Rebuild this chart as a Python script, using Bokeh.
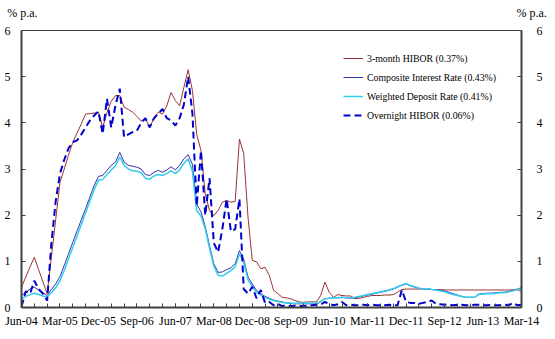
from bokeh.plotting import figure
from bokeh.layouts import column
from bokeh.models import FixedTicker, LinearAxis, Range1d, Legend, LegendItem
from bokeh.embed import file_html
from bokeh.resources import INLINE

# x-axis labels (every 9 months, monthly data Jun-04 .. Mar-14)
tick_labels = ["Jun-04", "Mar-05", "Dec-05", "Sep-06", "Jun-07", "Mar-08", "Dec-08",
               "Sep-09", "Jun-10", "Mar-11", "Dec-11", "Sep-12", "Jun-13", "Mar-14"]

hibor_3m = [
    0.44, 0.66, 0.88, 1.09, 0.82, 0.56, 0.30, 1.10, 1.90, 2.71,
    3.00, 3.30, 3.58, 3.78, 3.98, 4.19, 4.20, 4.21, 4.23, 3.90,
    4.22, 4.47, 4.59, 4.59, 4.34, 4.29, 4.23, 4.14, 4.04, 4.09,
    3.90, 4.10, 4.23, 4.19, 4.37, 4.66, 4.48, 4.37, 4.77, 5.15,
    4.70, 3.75, 3.40, 2.46, 2.10, 1.99, 2.10, 2.28, 2.32, 2.28,
    2.30, 3.65, 3.33, 1.96, 1.02, 0.99, 0.84, 0.87, 0.69, 0.37,
    0.30, 0.22, 0.21, 0.19, 0.15, 0.12, 0.11, 0.12, 0.12, 0.12,
    0.26, 0.55, 0.33, 0.22, 0.28, 0.26, 0.25, 0.25, 0.19, 0.20,
    0.22, 0.24, 0.26, 0.26, 0.26, 0.27, 0.27, 0.28, 0.33, 0.39,
    0.40, 0.40, 0.40, 0.40, 0.40, 0.40, 0.39, 0.39, 0.39, 0.38,
    0.38, 0.38, 0.38, 0.38, 0.38, 0.38, 0.38, 0.38, 0.38, 0.38,
    0.38, 0.38, 0.38, 0.38, 0.38, 0.38, 0.38, 0.37,
]

composite = [
    0.26, 0.33, 0.40, 0.44, 0.38, 0.32, 0.26, 0.39, 0.51, 0.67,
    0.91, 1.16, 1.41, 1.66, 1.90, 2.14, 2.39, 2.64, 2.84, 2.86,
    2.97, 3.08, 3.15, 3.36, 3.15, 3.08, 3.06, 3.04, 3.00, 2.88,
    2.86, 2.93, 2.97, 2.93, 2.98, 3.05, 2.98, 3.08, 3.22, 3.31,
    3.10, 2.24, 2.07, 1.75, 1.34, 0.95, 0.76, 0.77, 0.82, 0.86,
    0.95, 1.23, 1.05, 0.66, 0.51, 0.37, 0.30, 0.24, 0.20, 0.16,
    0.14, 0.12, 0.10, 0.09, 0.08, 0.08, 0.08, 0.08, 0.08, 0.08,
    0.12, 0.19, 0.20, 0.21, 0.21, 0.22, 0.21, 0.20, 0.21, 0.23,
    0.25, 0.27, 0.29, 0.31, 0.33, 0.35, 0.37, 0.40, 0.44, 0.48,
    0.51, 0.47, 0.44, 0.42, 0.40, 0.41, 0.39, 0.38, 0.37, 0.36,
    0.33, 0.30, 0.27, 0.24, 0.22, 0.22, 0.22, 0.29, 0.30, 0.31,
    0.31, 0.32, 0.33, 0.33, 0.35, 0.37, 0.40, 0.43,
]

weighted = [
    0.19, 0.24, 0.28, 0.31, 0.28, 0.25, 0.23, 0.32, 0.43, 0.58,
    0.80, 1.05, 1.30, 1.55, 1.80, 2.05, 2.30, 2.55, 2.76, 2.77,
    2.88, 2.98, 3.07, 3.26, 3.08, 3.00, 2.96, 2.95, 2.92, 2.80,
    2.78, 2.85, 2.88, 2.86, 2.90, 2.96, 2.90, 2.98, 3.12, 3.22,
    2.95, 2.10, 1.98, 1.70, 1.28, 0.90, 0.70, 0.68, 0.74, 0.80,
    0.88, 1.16, 0.98, 0.60, 0.45, 0.33, 0.27, 0.22, 0.18, 0.15,
    0.13, 0.11, 0.10, 0.09, 0.09, 0.09, 0.09, 0.09, 0.09, 0.09,
    0.13, 0.19, 0.20, 0.21, 0.21, 0.22, 0.21, 0.21, 0.22, 0.24,
    0.26, 0.28, 0.30, 0.32, 0.34, 0.36, 0.38, 0.41, 0.45, 0.49,
    0.52, 0.48, 0.45, 0.42, 0.40, 0.41, 0.39, 0.38, 0.36, 0.34,
    0.31, 0.28, 0.26, 0.24, 0.22, 0.22, 0.22, 0.28, 0.29, 0.30,
    0.30, 0.31, 0.32, 0.32, 0.34, 0.36, 0.39, 0.41,
]

overnight = [
    0.02, 0.35, 0.30, 0.58, 0.40, 0.30, 0.15, 1.40, 2.30, 2.90,
    3.20, 3.45, 3.58, 3.62, 3.75, 3.90, 4.05, 4.16, 4.25, 3.76,
    4.52, 3.90, 4.38, 4.74, 3.69, 3.75, 3.80, 3.83, 4.00, 4.10,
    3.90, 4.10, 4.20, 4.30, 4.10, 4.05, 3.94, 4.10, 4.40, 5.00,
    4.20, 2.20, 3.40, 2.00, 2.80, 1.40, 1.20, 1.70, 2.35, 1.65,
    1.70, 2.35, 0.40, 0.30, 0.45, 0.20, 0.38, 0.10, 0.12, 0.05,
    0.08, 0.03, 0.05, 0.03, 0.04, 0.03, 0.03, 0.04, 0.05, 0.06,
    0.06, 0.12, 0.08, 0.05, 0.07, 0.12, 0.05, 0.06, 0.05, 0.05,
    0.06, 0.05, 0.06, 0.05, 0.05, 0.05, 0.06, 0.05, 0.05, 0.38,
    0.12, 0.10, 0.10, 0.08, 0.10, 0.12, 0.15, 0.08, 0.07, 0.06,
    0.06, 0.05, 0.06, 0.06, 0.05, 0.05, 0.06, 0.06, 0.05, 0.05,
    0.06, 0.05, 0.05, 0.06, 0.05, 0.10, 0.05, 0.06,
]

series_labels = ["3-month HIBOR (0.37%)", "Composite Interest Rate (0.43%)",
                 "Weighted Deposit Rate (0.41%)", "Overnight HIBOR (0.06%)"]
unit_label = "% p.a."

months = list(range(len(hibor_3m)))
n_last = len(hibor_3m) - 1

FONT = "Liberation Serif"
AX = "#404040"
W = 555
HEAD_H = 23

# --- header strip: the two unit labels are drawn as y-axis labels ---
head = figure(width=W, height=HEAD_H, output_backend="svg", toolbar_location=None,
              x_range=Range1d(0, 1), y_range=Range1d(0, HEAD_H),
              x_axis_type=None, y_axis_type=None,
              min_border_left=21, min_border_right=34, min_border_top=0, min_border_bottom=0)
head.outline_line_color = None
head.xgrid.visible = False
head.ygrid.visible = False
hl = LinearAxis()
hr = LinearAxis()
head.add_layout(hl, "left")
head.add_layout(hr, "right")
for ax in (hl, hr):
    ax.ticker = FixedTicker(ticks=[HEAD_H - 12], minor_ticks=[])
    ax.major_label_overrides = {HEAD_H - 12: unit_label}
    ax.axis_line_color = None
    ax.major_tick_line_color = None
    ax.minor_tick_line_color = None
    ax.major_tick_in = 0
    ax.major_tick_out = 0
    ax.major_label_text_font = FONT
    ax.major_label_text_font_size = "12px"
    ax.major_label_text_color = "black"
hl.major_label_standoff = -16
hr.major_label_standoff = -5

# --- main chart ---
p = figure(width=W, height=339 - HEAD_H, output_backend="svg", toolbar_location=None,
           x_range=Range1d(0, n_last), y_range=Range1d(0, 6),
           min_border_left=21, min_border_right=34, min_border_top=30 - HEAD_H, min_border_bottom=32)
p.background_fill_color = "white"
p.border_fill_color = "white"
p.outline_line_color = AX
p.outline_line_width = 1
p.xgrid.visible = False
p.ygrid.visible = False

xa = p.xaxis[0]
xa.ticker = FixedTicker(ticks=list(range(0, n_last + 1, 9)), minor_ticks=list(range(0, n_last + 1, 3)))
xa.major_label_overrides = {i * 9: lab for i, lab in enumerate(tick_labels)}
xa.major_tick_in = 4
xa.major_tick_out = 0
xa.minor_tick_in = 4
xa.minor_tick_out = 0
xa.major_tick_line_color = AX
xa.minor_tick_line_color = AX
xa.axis_line_color = AX
xa.axis_line_width = 2
xa.major_label_standoff = 6
xa.major_label_text_font = FONT
xa.major_label_text_font_size = "12px"
xa.major_label_text_color = "black"

ya = p.yaxis[0]
ry = LinearAxis()
p.add_layout(ry, "right")
for ax in (ya, ry):
    ax.ticker = FixedTicker(ticks=[0, 1, 2, 3, 4, 5, 6], minor_ticks=[])
    ax.major_tick_in = 4
    ax.major_tick_out = 0
    ax.minor_tick_in = 0
    ax.minor_tick_out = 0
    ax.major_tick_line_color = AX
    ax.axis_line_color = AX
    ax.axis_line_width = 2
    ax.major_label_text_font = FONT
    ax.major_label_text_font_size = "12px"
    ax.major_label_text_color = "black"
ya.major_label_standoff = 11
ry.major_label_standoff = 15

r1 = p.line(months, hibor_3m, line_color="#993333", line_width=1)
r2 = p.line(months, composite, line_color="#3333AA", line_width=1)
r3 = p.line(months, weighted, line_color="#33CCEE", line_width=1.5)
r4 = p.line(months, overnight, line_color="#0000CC", line_width=2, line_dash="7 4")

legend = Legend(items=[LegendItem(label=series_labels[0], renderers=[r1]),
                       LegendItem(label=series_labels[1], renderers=[r2]),
                       LegendItem(label=series_labels[2], renderers=[r3]),
                       LegendItem(label=series_labels[3], renderers=[r4])],
                location=(322, 186), orientation="vertical")
legend.border_line_color = None
legend.background_fill_alpha = 0
legend.padding = 0
legend.margin = 0
legend.spacing = 7
legend.label_height = 12
legend.glyph_height = 12
legend.glyph_width = 20
legend.label_standoff = 4
legend.label_text_font = FONT
legend.label_text_font_size = "9.8px"
legend.label_text_color = "black"
p.add_layout(legend, "center")

layout = column(head, p, spacing=0)
open("out.html", "w").write(file_html(layout, INLINE))
